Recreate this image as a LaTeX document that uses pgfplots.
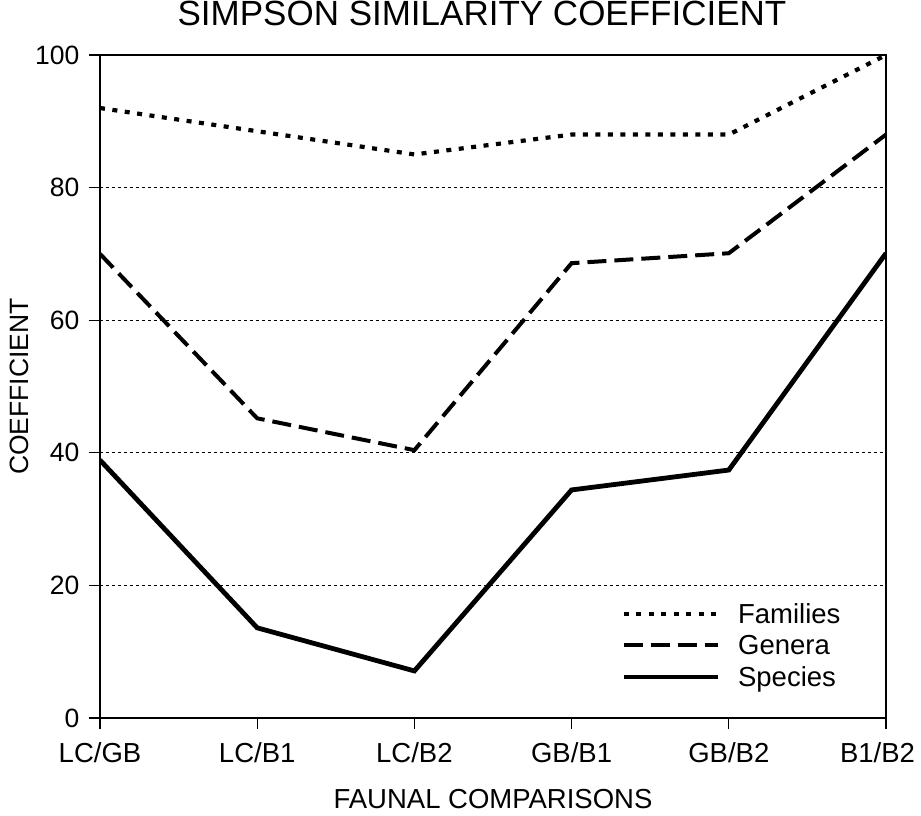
\documentclass[border=0pt]{standalone}
\usepackage{fontspec}
\setmainfont{Liberation Sans}
\usepackage{pgfplots}
\pgfplotsset{compat=1.18}
\begin{document}
\begin{tikzpicture}[x=1pt,y=1pt]
\useasboundingbox (-100,-97) rectangle (821,718);
\begin{axis}[
  at={(0,0)}, anchor=south west,
  scale only axis,
  width=786pt, height=663pt,
  xmin=0, xmax=5, ymin=0, ymax=100,
  xtick={0,1,2,3,4,5},
  xticklabels={LC/GB,LC/B1,LC/B2,GB/B1,GB/B2,\makebox[58pt][r]{B1/B2}},
  ytick={0,20,40,60,80,100},
  tick align=outside,
  major tick length=11pt,
  xtick pos=bottom, ytick pos=left,
  /pgf/number format/assume math mode=true,
  xticklabel style={font=\fontsize{27.5}{32}\selectfont, yshift=-10pt},
  yticklabel style={font=\fontsize{26.5}{30}\selectfont, xshift=-6pt},
  axis line style={line width=1.6pt},
  every tick/.style={line width=1.2pt, black},
  ymajorgrids,
  grid style={line width=0.8pt, dash pattern=on 3pt off 3pt, black},
  title={SIMPSON SIMILARITY COEFFICIENT},
  title style={font=\fontsize{35}{40}\selectfont, at={(0.486,1)}, anchor=base, yshift=23pt},
  xlabel={FAUNAL COMPARISONS},
  ylabel={COEFFICIENT},
  xlabel style={font=\fontsize{27.5}{32}\selectfont, at={(0.5,-0.136)}, anchor=base},
  ylabel style={font=\fontsize{26.5}{32}\selectfont, at={(-0.0916,0.5)}, anchor=base, rotate=0},
  legend style={draw=none, fill=none, at={(0.663,0.1765)}, anchor=north west,
    font=\fontsize{27.5}{32}\selectfont, row sep=6.5pt, inner sep=0pt,
    /tikz/every odd column/.append style={column sep=16pt}},
  legend cell align=left,
  legend image code/.code={\draw[#1] (0pt,0pt) -- (94pt,0pt);},
]
\addplot[black, line width=4.2pt, dash pattern=on 5pt off 7.5pt] coordinates {(0,92) (1,88.5) (2,85) (3,88) (4,88) (5,100)};
\addlegendentry{Families}
\addplot[black, line width=4pt, dash pattern=on 19pt off 8pt] coordinates {(0,70) (1,45.2) (2,40.4) (3,68.6) (4,70.1) (5,88)};
\addlegendentry{Genera}
\addplot[black, line width=4.8pt] coordinates {(0,38.9) (1,13.6) (2,7.1) (3,34.4) (4,37.4) (5,70.1)};
\addlegendentry{Species}
\end{axis}
\end{tikzpicture}
\end{document}
